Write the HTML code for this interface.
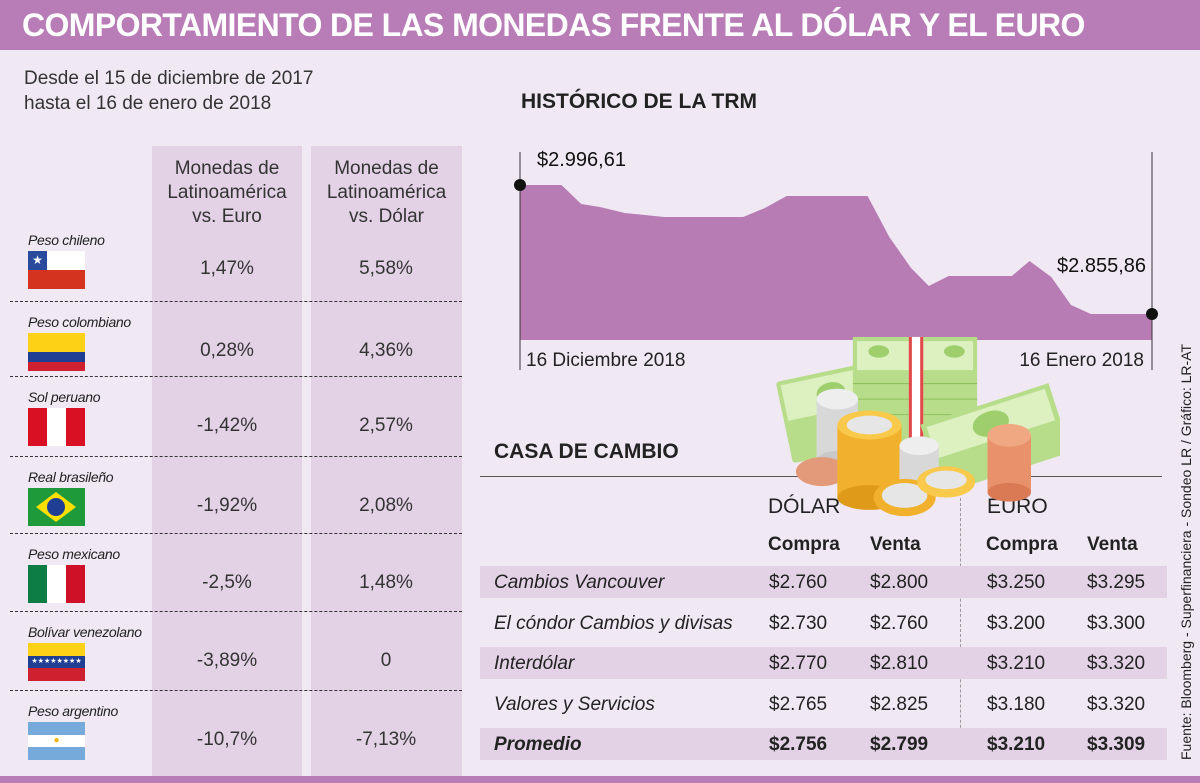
<!DOCTYPE html>
<html><head><meta charset="utf-8">
<style>
*{margin:0;padding:0;box-sizing:border-box}
body{width:1200px;height:783px;background:#f0e8f3;font-family:"Liberation Sans",sans-serif;color:#222;position:relative;overflow:hidden}
.abs{position:absolute}
#hdr{left:0;top:0;width:1200px;height:50px;background:#b87cb6;color:#fff;font-weight:bold;font-size:32px;line-height:50px;padding-left:22px;letter-spacing:-0.6px}
.col{background:#e3d2e6;top:146px;height:630px}
.hd{font-size:19px;text-align:center;line-height:24px;color:#333}
.nm{font-style:italic;font-size:14px;left:28px;color:#222;letter-spacing:-0.3px}
.val{font-size:19px;text-align:center;width:150px;color:#333}
.sep{left:10px;width:452px;border-top:1.5px dashed #333}
.flag{left:28px;width:57px;height:38px;overflow:hidden}
.t{font-size:19px;color:#222}
.rowbg{left:480px;width:687px;height:32px;background:#e3d2e6}
</style></head><body>
<div id="hdr" class="abs">COMPORTAMIENTO DE LAS MONEDAS FRENTE AL DÓLAR Y EL EURO</div>
<div class="abs" style="left:24px;top:66px;font-size:19px;line-height:25px;color:#333">Desde el 15 de diciembre de 2017<br>hasta el 16 de enero de 2018</div>

<div class="abs col" style="left:152px;width:150px"></div>
<div class="abs col" style="left:311px;width:151px"></div>
<div class="abs hd" style="left:152px;top:157px;width:150px">Monedas de<br>Latinoamérica<br>vs. Euro</div>
<div class="abs hd" style="left:311px;top:157px;width:151px">Monedas de<br>Latinoamérica<br>vs. Dólar</div>

<div id="left"></div>

<div class="abs" style="left:521px;top:90px;font-size:21px;font-weight:bold;color:#222">HISTÓRICO DE LA TRM</div>
<svg class="abs" style="left:0;top:0" width="1200" height="783" id="chart"></svg>

<div class="abs" style="left:494px;top:440px;font-size:21px;font-weight:bold">CASA DE CAMBIO</div>
<div class="abs" style="left:480px;top:476px;width:682px;border-top:1px solid #555"></div>
<div class="abs" style="left:960px;top:498px;height:260px;border-left:1.5px dashed #999"></div>
<div id="right"></div>
<div class="abs" style="left:1178px;top:760px;transform-origin:0 0;transform:rotate(-90deg);font-size:14px;white-space:nowrap;width:440px;color:#222">Fuente: Bloomberg - Superfinanciera - Sondeo LR / Gráfico: LR-AT</div>
<div class="abs" style="left:0;top:776px;width:1200px;height:7px;background:#b87cb6"></div>

<svg class="abs" style="left:770px;top:325px" width="290" height="200" viewBox="0 0 280 190">
 <g transform="rotate(-12 50 80)"><rect x="12" y="45" width="100" height="80" fill="#b7dd8a" rx="3"/><rect x="16" y="49" width="92" height="35" fill="#dcf0c0"/><ellipse cx="62" cy="66" rx="14" ry="10" fill="#9fcf6d"/></g>
 <rect x="80" y="10" width="120" height="105" fill="#b7dd8a"/>
 <rect x="84" y="14" width="112" height="28" fill="#dcf0c0"/><ellipse cx="105" cy="24" rx="10" ry="6" fill="#9fcf6d"/><ellipse cx="178" cy="24" rx="10" ry="6" fill="#9fcf6d"/>
 <line x1="80" y1="55" x2="200" y2="55" stroke="#8fc060"/><line x1="80" y1="70" x2="200" y2="70" stroke="#8fc060"/><line x1="80" y1="85" x2="200" y2="85" stroke="#8fc060"/>
 <rect x="134" y="10" width="14" height="105" fill="#fff"/><rect x="134" y="10" width="3" height="105" fill="#e24a4a"/><rect x="145" y="10" width="3" height="105" fill="#e24a4a"/>
 <g transform="rotate(-18 210 100)"><rect x="150" y="75" width="130" height="70" fill="#b7dd8a"/><rect x="155" y="79" width="120" height="32" fill="#dcf0c0"/><ellipse cx="215" cy="95" rx="18" ry="12" fill="#9fcf6d"/></g>
 <rect x="45" y="70" width="40" height="60" fill="#d8d8d8"/><ellipse cx="65" cy="70" rx="20" ry="10" fill="#eeeeee"/><ellipse cx="65" cy="130" rx="20" ry="10" fill="#c8c8c8"/>
 <ellipse cx="50" cy="140" rx="25" ry="14" fill="#e39a7a"/>
 <rect x="65" y="95" width="62" height="70" fill="#f2b12c"/><ellipse cx="96" cy="165" rx="31" ry="12" fill="#e09a1a"/><ellipse cx="96" cy="95" rx="31" ry="14" fill="#f8c94a"/><ellipse cx="96" cy="95" rx="22" ry="9" fill="#e6e6e6"/>
 <rect x="125" y="115" width="38" height="40" fill="#d8d8d8"/><ellipse cx="144" cy="115" rx="19" ry="9" fill="#eeeeee"/>
 <ellipse cx="130" cy="165" rx="30" ry="18" fill="#f2b12c"/><ellipse cx="130" cy="163" rx="22" ry="12" fill="#e6e6e6"/>
 <ellipse cx="170" cy="150" rx="28" ry="15" fill="#f8c94a"/><ellipse cx="170" cy="148" rx="20" ry="9" fill="#e6e6e6"/>
 <rect x="210" y="105" width="42" height="55" fill="#e8916a"/><ellipse cx="231" cy="160" rx="21" ry="9" fill="#d97a55"/><ellipse cx="231" cy="105" rx="21" ry="11" fill="#f0a882"/>
</svg>

<script>
// ---- left table data ----
const currencies=["Peso chileno","Peso colombiano","Sol peruano","Real brasileño","Peso mexicano","Bolívar venezolano","Peso argentino"];
const vsEuro=["1,47%","0,28%","-1,42%","-1,92%","-2,5%","-3,89%","-10,7%"];
const vsDolar=["5,58%","4,36%","2,57%","2,08%","1,48%","0","-7,13%"];
const nameTops=[232,314,389,469,546,624,703];
const flags=[
 '<div style="position:absolute;left:0;top:0;width:57px;height:19px;background:#fff"></div><div style="position:absolute;left:0;top:0;width:19px;height:19px;background:#2a4a9c;color:#fff;font-size:12px;text-align:center;line-height:19px">★</div><div style="position:absolute;left:0;top:19px;width:57px;height:19px;background:#d3331f"></div>',
 '<div style="height:19px;background:#fcd116"></div><div style="height:10px;background:#1f3f94"></div><div style="height:9px;background:#cf2030"></div>',
 '<div style="display:flex;height:38px"><div style="flex:1;background:#d91023"></div><div style="flex:1;background:#fff"></div><div style="flex:1;background:#d91023"></div></div>',
 '<div style="height:38px;background:#1f9a3a;position:relative"><div style="position:absolute;left:8px;top:4px;width:0;height:0;border-left:20px solid transparent;border-right:20px solid transparent;border-bottom:15px solid #fedf00"></div><div style="position:absolute;left:8px;top:19px;width:0;height:0;border-left:20px solid transparent;border-right:20px solid transparent;border-top:15px solid #fedf00"></div><div style="position:absolute;left:19px;top:10px;width:18px;height:18px;border-radius:50%;background:#1f3f94"></div></div>',
 '<div style="display:flex;height:38px"><div style="flex:1;background:#0e7d45"></div><div style="flex:1;background:#fff"></div><div style="flex:1;background:#ce1126"></div></div>',
 '<div style="height:13px;background:#fcd116"></div><div style="height:12px;background:#1f3f94;color:#fff;font-size:7px;text-align:center;line-height:12px">★★★★★★★★</div><div style="height:13px;background:#cf2030"></div>',
 '<div style="height:13px;background:#75aadb"></div><div style="height:12px;background:#fff;text-align:center;color:#f6b40e;font-size:10px;line-height:12px">●</div><div style="height:13px;background:#75aadb"></div>'
];
const left=document.getElementById('left');
currencies.forEach((c,i)=>{
 const top=nameTops[i];
 const n=document.createElement('div');n.className='abs nm';n.style.top=top+'px';n.textContent=c;
 
 
 left.appendChild(n);
 const f=document.createElement('div');f.className='abs flag';f.style.top=(top+19)+'px';f.innerHTML=flags[i];
 
 
 left.appendChild(f);
 const e=document.createElement('div');e.className='abs val';e.style.left='152px';e.style.top=(top+26)+'px';e.textContent=vsEuro[i];
 
 
 left.appendChild(e);
 const d=document.createElement('div');d.className='abs val';d.style.left='311px';d.style.top=(top+26)+'px';d.textContent=vsDolar[i];
 
 
 left.appendChild(d);
 if(i<6){const s=document.createElement('div');s.className='abs sep';s.style.top=(nameTops[i+1]-13)+'px';
 
 
 left.appendChild(s);}
});

// ---- TRM chart data ----
const trmDays=[0,2.1,3.1,4.05,5.3,7.3,11.3,12.4,13.5,17.6,18.7,19.8,20.7,21.7,24.9,25.8,26.9,27.9,28.9,32];
const trmValues=[2996.61,2996.61,2975.9,2972.6,2966.1,2961.7,2961.7,2971.5,2984.6,2984.6,2939.9,2906.1,2886.4,2897.3,2897.3,2913.7,2896.2,2865.7,2855.86,2855.86];
const xLabels=["16 Diciembre 2018","16 Enero 2018"];
const x0=520,x1=1152,yTop=185,yBot=314,yBase=340,vMax=2996.61,vMin=2855.86,dMax=32;
const X=d=>x0+(d/dMax)*(x1-x0);
const Y=v=>yTop+(vMax-v)/(vMax-vMin)*(yBot-yTop);
const svg=document.getElementById('chart');const NS='http://www.w3.org/2000/svg';
function mk(tag,attrs){const e=document.createElementNS(NS,tag);for(const k in attrs)e.setAttribute(k,attrs[k]);svg.appendChild(e);return e;}
let d='M'+X(trmDays[0])+','+yBase;
trmDays.forEach((dd,i)=>{d+=' L'+X(dd)+','+Y(trmValues[i]);});
d+=' L'+X(trmDays[trmDays.length-1])+','+yBase+' Z';
const area=mk('path',{d:d,fill:'#b87cb4'});


const la=mk('line',{x1:x0,y1:152,x2:x0,y2:370,stroke:'#333','stroke-width':1});


const ra=mk('line',{x1:x1,y1:152,x2:x1,y2:370,stroke:'#333','stroke-width':1});


const p0=mk('circle',{cx:X(trmDays[0]),cy:Y(trmValues[0]),r:6,fill:'#111'});


const n=trmDays.length-1;
const p1=mk('circle',{cx:X(trmDays[n]),cy:Y(trmValues[n]),r:6,fill:'#111'});


const fmt=v=>'$'+v.toFixed(2).replace('.',',').replace(/^(\d)(\d{3})/,'$1.$2');
const t0=mk('text',{x:X(trmDays[0])+17,y:Y(trmValues[0])-19,'font-size':20,fill:'#111','font-family':'Liberation Sans'});t0.textContent=fmt(trmValues[0]);


const t1=mk('text',{x:X(trmDays[n])-6,y:Y(trmValues[n])-42,'font-size':20,fill:'#111','text-anchor':'end','font-family':'Liberation Sans'});t1.textContent=fmt(trmValues[n]);


const xl0=mk('text',{x:x0+6,y:366,'font-size':19,fill:'#222','font-family':'Liberation Sans'});xl0.textContent=xLabels[0];


const xl1=mk('text',{x:x1-8,y:366,'font-size':19,fill:'#222','text-anchor':'end','font-family':'Liberation Sans'});xl1.textContent=xLabels[1];



// ---- exchange houses ----
const houses=["Cambios Vancouver","El cóndor Cambios y divisas","Interdólar","Valores y Servicios","Promedio"];
const usdBuy=["$2.760","$2.730","$2.770","$2.765","$2.756"];
const usdSell=["$2.800","$2.760","$2.810","$2.825","$2.799"];
const eurBuy=["$3.250","$3.200","$3.210","$3.180","$3.210"];
const eurSell=["$3.295","$3.300","$3.320","$3.320","$3.309"];
const right=document.getElementById('right');
function add(html,cls,style,name){const e=document.createElement('div');e.className='abs '+cls;e.style.cssText=style;e.textContent=html;
 
 
 right.appendChild(e);return e;}
add('DÓLAR','t','left:768px;top:495px;font-size:21px','dollar-header');
add('EURO','t','left:987px;top:495px;font-size:21px','euro-header');
add('Compra','t','left:768px;top:534px;font-weight:bold;font-size:19px','dollar-buy-header');
add('Venta','t','left:870px;top:534px;font-weight:bold;font-size:19px','dollar-sell-header');
add('Compra','t','left:986px;top:534px;font-weight:bold;font-size:19px','euro-buy-header');
add('Venta','t','left:1087px;top:534px;font-weight:bold;font-size:19px','euro-sell-header');
houses.forEach((h,i)=>{
 const cy=582+i*40.5;
 if(i%2===0){const b=document.createElement('div');b.className='abs rowbg';b.style.top=(cy-16)+'px';
  
  
  right.insertBefore(b,right.firstChild);}
 const bold=i===4?'font-weight:bold;':'';
 add(h,'t',bold+'left:494px;top:'+(cy-10)+'px;font-style:italic;font-size:19px','exchange-house-name');
 add(usdBuy[i],'t',bold+'left:769px;top:'+(cy-10)+'px;font-size:19px','dollar-buy-value');
 add(usdSell[i],'t',bold+'left:870px;top:'+(cy-10)+'px;font-size:19px','dollar-sell-value');
 add(eurBuy[i],'t',bold+'left:987px;top:'+(cy-10)+'px;font-size:19px','euro-buy-value');
 add(eurSell[i],'t',bold+'left:1087px;top:'+(cy-10)+'px;font-size:19px','euro-sell-value');
});
</script>
</body></html>
